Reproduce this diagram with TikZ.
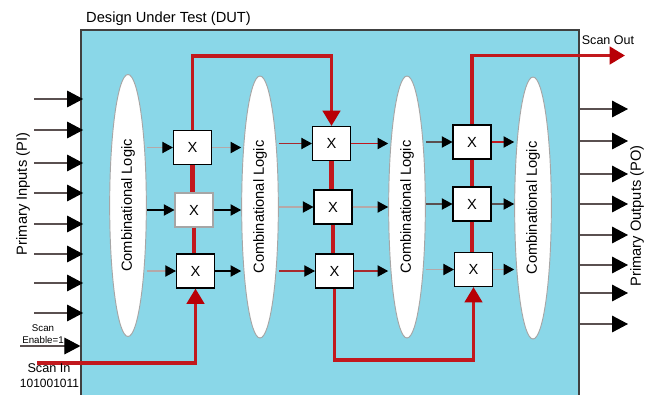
\documentclass[tikz,border=0pt]{standalone}
\usepackage{fontspec}
\setmainfont{Liberation Sans}
\usetikzlibrary{shapes.geometric,arrows.meta,calc}
\definecolor{dutblue}{HTML}{8AD7E8}
\definecolor{scanred}{HTML}{C2181D}
\definecolor{headred}{HTML}{B80006}
\definecolor{wirered}{HTML}{A82A2E}
\definecolor{wiregray}{HTML}{B5A8A8}
\definecolor{pingray}{HTML}{5A5050}

\begin{document}
\begin{tikzpicture}[x=0.75pt, y=-0.75pt,
  dut/.style={rectangle, draw=black!75, line width=0.9pt, fill=dutblue, minimum width=373.5pt, minimum height=277.5pt, inner sep=0pt},
  logic/.style={ellipse, draw=black!35, line width=0.7pt, fill=white, minimum width=27.5pt, minimum height=196.5pt, inner sep=0pt, font=\fontsize{11}{13}\selectfont},
  cell/.style={rectangle, draw=black, line width=0.8pt, fill=white, minimum width=28.5pt, minimum height=25.5pt, inner sep=0pt, font=\fontsize{11}{13}\selectfont},
  wire/.style={-{Triangle[length=8pt, width=8.5pt, black]}, line width=0.8pt, #1},
  pin/.style={-{Triangle[length=12pt, width=12.5pt, black]}, line width=0.8pt, pingray},
  scan/.style={-{Triangle[length=11.5pt, width=13pt, headred]}, line width=2.6pt, scanred},
  link/.style={line width=3.6pt, scanred},
  lbl/.style={inner sep=0pt, align=center}
]
  \useasboundingbox (0,0) rectangle (654,394);
  \node[dut] (dut) at (330,215) {};
  \node[lbl, font=\fontsize{11}{13}\selectfont] (dutlbl) at (168.5,19) {Design Under Test (DUT)};

  \node[logic] (clA) at (128,205.5) {\rotatebox{90}{Combinational Logic}};
  \node[logic] (clB) at (260,207) {\rotatebox{90}{Combinational Logic}};
  \node[logic] (clC) at (407,207) {\rotatebox{90}{Combinational Logic}};
  \node[logic] (clD) at (533,208) {\rotatebox{90}{Combinational Logic}};

  \node[cell] (a1) at (192.5,147.5) {X};
  \node[cell, draw=black!35] (a2) at (194,210) {X};
  \node[cell] (a3) at (195.5,271) {X};
  \node[cell] (b1) at (331.5,143.5) {X};
  \node[cell] (b2) at (333,207) {X};
  \node[cell] (b3) at (334.5,271) {X};
  \node[cell] (c1) at (472,142) {X};
  \node[cell] (c2) at (472,204) {X};
  \node[cell] (c3) at (473.5,269.5) {X};

  \draw[link] (a1) -- (a1 |- a2.north);
  \draw[link] (a2) -- (a2 |- a3.north);
  \draw[link] (b1) -- (b1 |- b2.north);
  \draw[link] (b2) -- (b2 |- b3.north);
  \draw[link] (c1) -- (c1 |- c2.north);
  \draw[link] (c2) -- (c2 |- c3.north);

  \coordinate (topA) at (260,56);
  \coordinate (botB) at (400,360);
  \coordinate (scanin) at (37,363);
  \coordinate (scanout) at (625,55.5);
  \draw[scan] (a1.north) |- (topA) -| (b1.north);
  \draw[scan] (c1.north) |- (scanout);
  \draw[scan] (scanin) -| (a3.south);
  \draw[scan] (b3.south) |- (botB) -| (c3.south);

  \draw[wire=wiregray] (clA.east |- a1) -- (a1);
  \draw[wire=black] (clA.east |- a2) -- (a2);
  \draw[wire=wiregray] (clA.east |- a3) -- (a3);
  \draw[wire=wiregray] (a1) -- (a1 -| clB.west);
  \draw[wire=black] (a2) -- (a2 -| clB.west);
  \draw[wire=black] (a3) -- (a3 -| clB.west);
  \draw[wire=wirered] (clB.east |- b1) -- (b1);
  \draw[wire=wiregray] (clB.east |- b2) -- (b2);
  \draw[wire=wirered] (clB.east |- b3) -- (b3);
  \draw[wire=scanred] (b1) -- (b1 -| clC.west);
  \draw[wire=wiregray] (b2) -- (b2 -| clC.west);
  \draw[wire=wirered] (b3) -- (b3 -| clC.west);
  \draw[wire=pingray] (clC.east |- c1) -- (c1);
  \draw[wire=pingray] (clC.east |- c2) -- (c2);
  \draw[wire=wiregray] (clC.east |- c3) -- (c3);
  \draw[wire=scanred] (c1) -- (c1 -| clD.west);
  \draw[wire=pingray] (c2) -- (c2 -| clD.west);
  \draw[wire=wiregray] (c3) -- (c3 -| clD.west);

  \coordinate (piA) at (34,99);
  \coordinate (piB) at (34,130);
  \coordinate (piC) at (34,163);
  \coordinate (piD) at (34,193);
  \coordinate (piE) at (34,224);
  \coordinate (piF) at (34,254);
  \coordinate (piG) at (34,283);
  \coordinate (piH) at (34,313);
  \coordinate (en) at (20,346);
  \draw[pin, shorten >=-2pt] (piA) -- (piA -| dut.west);
  \draw[pin, shorten >=-2pt] (piB) -- (piB -| dut.west);
  \draw[pin, shorten >=-2pt] (piC) -- (piC -| dut.west);
  \draw[pin, shorten >=-2pt] (piD) -- (piD -| dut.west);
  \draw[pin, shorten >=-2pt] (piE) -- (piE -| dut.west);
  \draw[pin, shorten >=-2pt] (piF) -- (piF -| dut.west);
  \draw[pin, shorten >=-2pt] (piG) -- (piG -| dut.west);
  \draw[pin, shorten >=-2pt] (piH) -- (piH -| dut.west);
  \draw[pin] (en) -- (en -| dut.west);

  \coordinate (poA) at (628,109);
  \coordinate (poB) at (628,141);
  \coordinate (poC) at (628,174);
  \coordinate (poD) at (628,204);
  \coordinate (poE) at (628,235);
  \coordinate (poF) at (628,265);
  \coordinate (poG) at (628,293);
  \coordinate (poH) at (628,324);
  \draw[pin] (dut.east |- poA) -- (poA);
  \draw[pin] (dut.east |- poB) -- (poB);
  \draw[pin] (dut.east |- poC) -- (poC);
  \draw[pin] (dut.east |- poD) -- (poD);
  \draw[pin] (dut.east |- poE) -- (poE);
  \draw[pin] (dut.east |- poF) -- (poF);
  \draw[pin] (dut.east |- poG) -- (poG);
  \draw[pin] (dut.east |- poH) -- (poH);

  \node[lbl, rotate=90, font=\fontsize{11}{13}\selectfont] (pilbl) at (23,194) {Primary Inputs (PI)};
  \node[lbl, rotate=90, font=\fontsize{11}{13}\selectfont] (polbl) at (637,216) {Primary Outputs (PO)};
  \node[lbl, font=\fontsize{9.4}{11}\selectfont] (outlbl) at (608,40) {Scan Out};
  \node[lbl, font=\fontsize{7.3}{9}\selectfont] (enlbl) at (43,334) {Scan\\Enable=1};
  \node[lbl, font=\fontsize{9.5}{11}\selectfont] (inlbl) at (49,368) {Scan In};
  \node[lbl, font=\fontsize{9}{11}\selectfont] (bitslbl) at (49.5,383) {101001011};
\end{tikzpicture}
\end{document}
